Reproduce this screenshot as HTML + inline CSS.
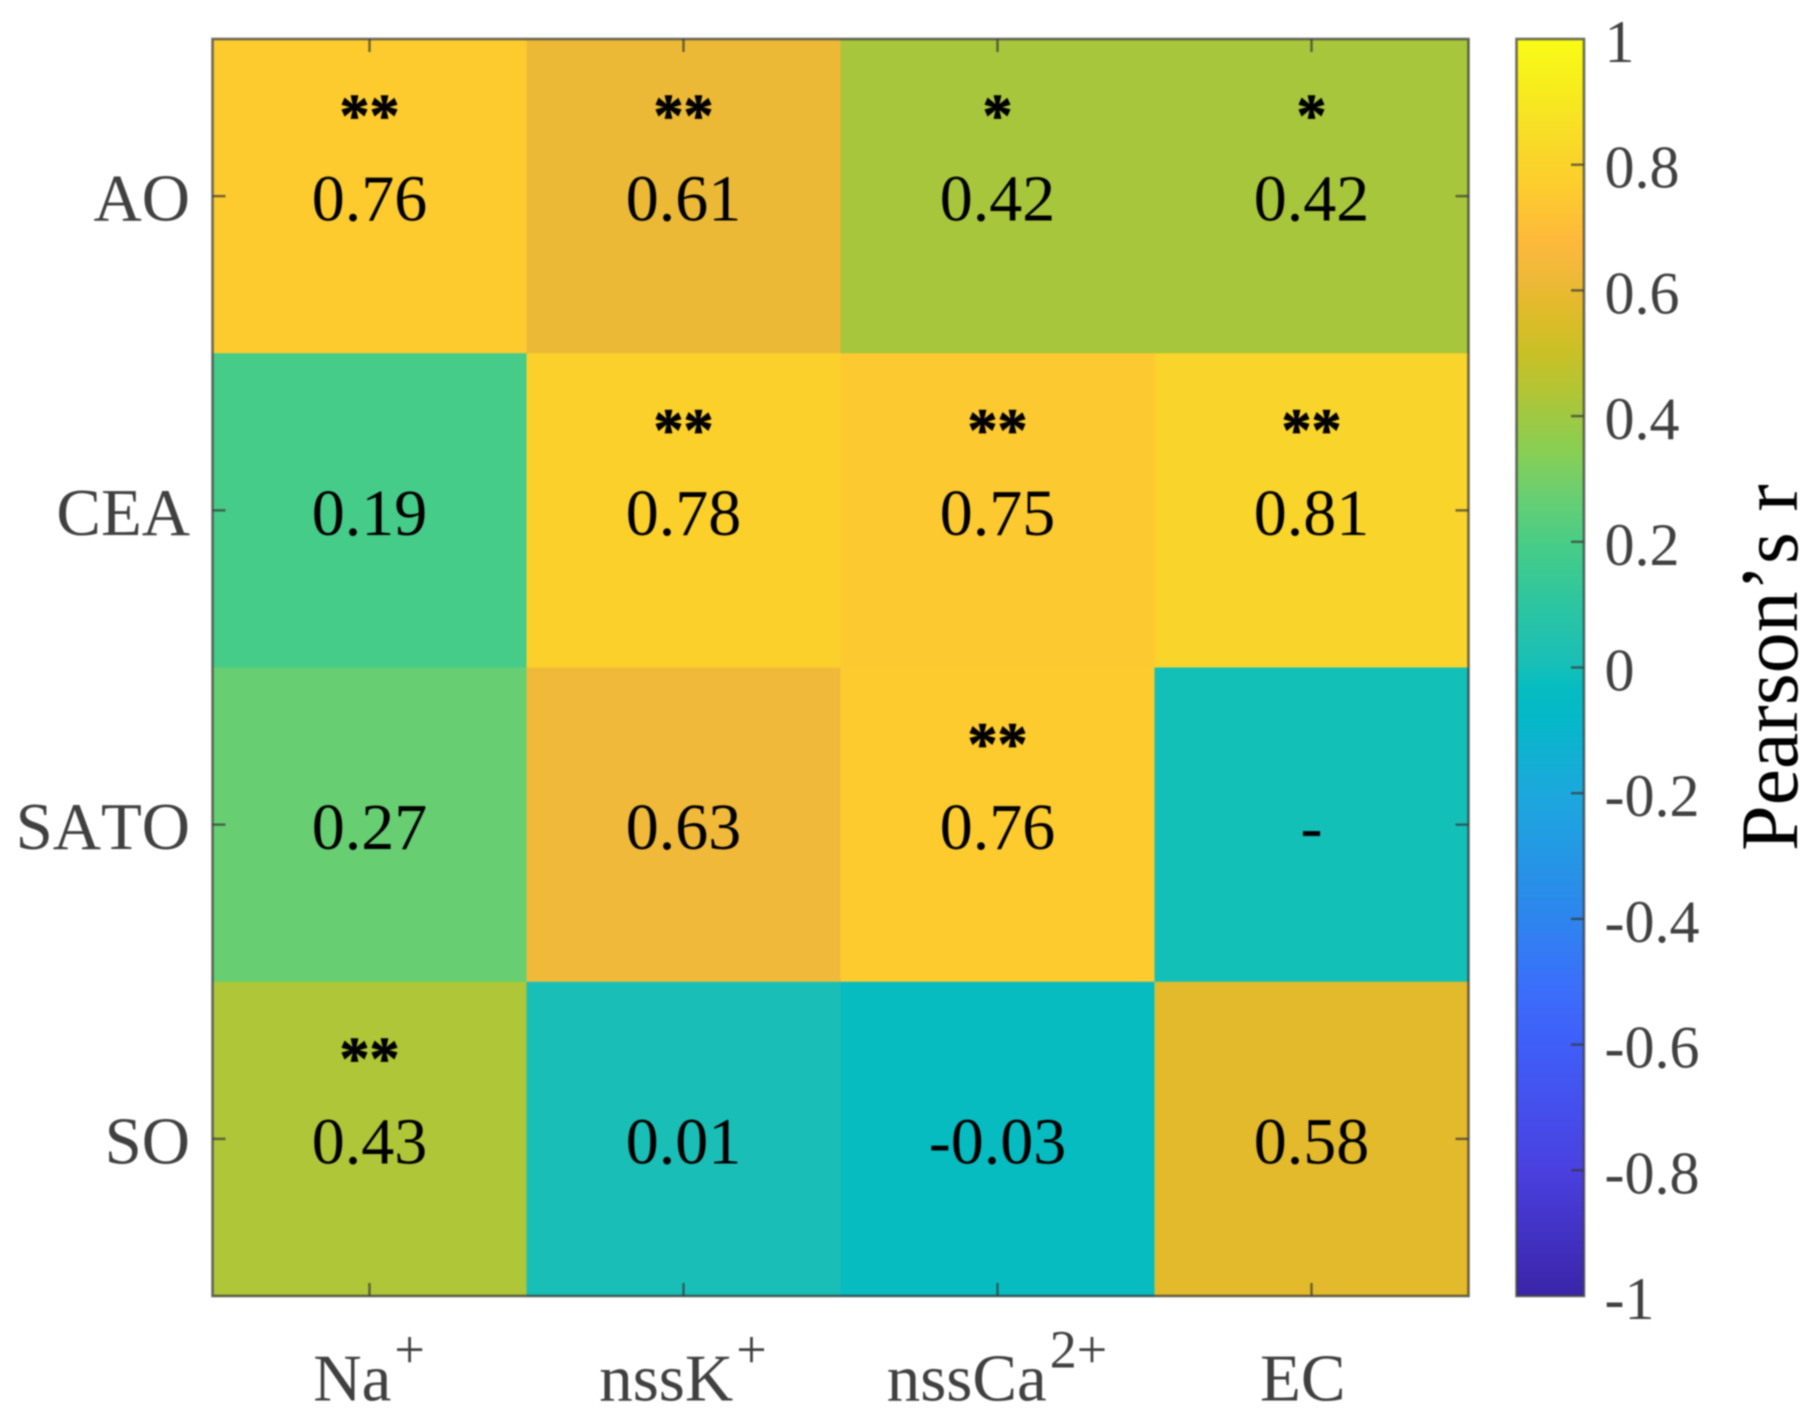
<!DOCTYPE html>
<html lang="en">
<head>
<meta charset="utf-8">
<title>Pearson's r heatmap</title>
<style>
html,body{margin:0;padding:0;background:#fff;}
body{width:1817px;height:1423px;overflow:hidden;}
svg{display:block;filter:blur(0.75px);}
text{font-family:"Liberation Serif",serif;font-kerning:none;}
</style>
</head>
<body>
<svg id="chart" xmlns="http://www.w3.org/2000/svg" width="1817" height="1423" viewBox="0 0 1817 1423">
<defs><linearGradient id="cbGrad" x1="0" y1="1" x2="0" y2="0"></linearGradient></defs>
<rect width="1817" height="1423" fill="#ffffff"/>
<g id="cells"></g>
<g id="notes"></g>
<g id="axes"></g>
<g id="colorbar"></g>
<text transform="translate(1797,851) rotate(-90)" font-size="82" fill="#000">Pearson’s r</text>
</svg>
<script>
// Data
const rowLabels = ["AO", "CEA", "SATO", "SO"];
const colBase = ["Na", "nssK", "nssCa", "EC"];
const colSup = ["+", "+", "2+", "\u00A0"];
const values = [
  [0.76, 0.61, 0.42, 0.42],
  [0.19, 0.78, 0.75, 0.81],
  [0.27, 0.63, 0.76, 0],
  [0.43, 0.01, -0.03, 0.58]
];
const valueLabels = [
  ["0.76", "0.61", "0.42", "0.42"],
  ["0.19", "0.78", "0.75", "0.81"],
  ["0.27", "0.63", "0.76", "-"],
  ["0.43", "0.01", "-0.03", "0.58"]
];
const significance = [
  ["**", "**", "*", "*"],
  ["", "**", "**", "**"],
  ["", "", "**", ""],
  ["**", "", "", ""]
];
const colorTicks = [1, 0.8, 0.6, 0.4, 0.2, 0, -0.2, -0.4, -0.6, -0.8, -1];
const colorDomain = [-1, 1];
const cmapPositions = [-1, -0.8, -0.6, -0.5, -0.4, -0.2, -0.08, -0.03, 0, 0.01, 0.1, 0.19, 0.27, 0.34, 0.42, 0.43, 0.5, 0.58, 0.61, 0.63, 0.68, 0.76, 0.78, 0.81, 0.9, 1];
const cmapColors = ["#3a24a8", "#4a40e0", "#3f5ef8", "#3a70fa", "#2d85ee", "#1ca8dc", "#05b8c8", "#07bcc0", "#13c0b8", "#19bfb6", "#2cc5a0", "#45cc88", "#67cf72", "#86cf55", "#a8c63b", "#aec637", "#c9c026", "#e3ba2b", "#ebb935", "#f1b939", "#fdb93a", "#fdcb2e", "#fcd02b", "#f9d42a", "#f6e820", "#f9fb15"];

const NS = "http://www.w3.org/2000/svg";
const plot = {left: 212.5, right: 1468.5, top: 39, bottom: 1296};
const bar = {left: 1516.5, right: 1584};
const AXIS = "rgba(55,55,55,0.72)";
const TICK_TEXT = "#404040";

function make(tag, attrs, parent, text) {
  const el = document.createElementNS(NS, tag);
  for (const k in attrs) el.setAttribute(k, attrs[k]);
  if (text !== undefined) el.textContent = text;
  parent.appendChild(el);
  return el;
}
function xBand(c) { return plot.left + (plot.right - plot.left) * c / colBase.length; }
function yBand(r) { return plot.top + (plot.bottom - plot.top) * r / rowLabels.length; }
function xMid(c) { return xBand(c + 0.5); }
function yMid(r) { return yBand(r + 0.5); }
function yColor(v) {
  return plot.bottom - (v - colorDomain[0]) / (colorDomain[1] - colorDomain[0]) * (plot.bottom - plot.top);
}
function hexRgb(h) { return [1, 3, 5].map(i => parseInt(h.substr(i, 2), 16)); }
function colorOf(v) {
  const p = cmapPositions;
  if (v <= p[0]) return cmapColors[0];
  for (let i = 1; i < p.length; i++) {
    if (v <= p[i]) {
      const t = (v - p[i - 1]) / (p[i] - p[i - 1]);
      const a = hexRgb(cmapColors[i - 1]), b = hexRgb(cmapColors[i]);
      return "rgb(" + a.map((x, k) => Math.round(x + (b[k] - x) * t)).join(",") + ")";
    }
  }
  return cmapColors[cmapColors.length - 1];
}

const cellsG = document.getElementById("cells");
const notesG = document.getElementById("notes");
const axesG = document.getElementById("axes");
const barG = document.getElementById("colorbar");

rowLabels.forEach((rowName, r) => {
  colBase.forEach((colName, c) => {
    const cell = make("rect", {
      x: xBand(c), y: yBand(r),
      width: xBand(c + 1) - xBand(c) + 0.5, height: yBand(r + 1) - yBand(r) + 0.5,
      fill: colorOf(values[r][c])
    }, cellsG);
    
    

    const label = make("text", {
      x: xMid(c), y: yMid(r) + 24.5, "text-anchor": "middle", "font-size": 66, fill: "#000"
    }, notesG, valueLabels[r][c]);
    
    

    if (significance[r][c]) {
      const star = make("text", {
        x: xMid(c), y: yMid(r) - 60.5, "text-anchor": "middle", "font-size": 60, "font-weight": "bold", fill: "#000",
        stroke: "#000", "stroke-width": 0.8
      }, notesG, significance[r][c]);
      
      
    }
  });
});

// Axes frame
const frame = make("rect", {
  x: plot.left, y: plot.top, width: plot.right - plot.left, height: plot.bottom - plot.top,
  fill: "none", stroke: AXIS, "stroke-width": 2.6
}, axesG);



rowLabels.forEach((name, r) => {
  const y = yMid(r);
  const t1 = make("line", {x1: plot.left, x2: plot.left + 13, y1: y, y2: y, stroke: AXIS, "stroke-width": 2.4}, axesG);
  
  
  const t2 = make("line", {x1: plot.right - 13, x2: plot.right, y1: y, y2: y, stroke: AXIS, "stroke-width": 2.4}, axesG);
  
  
  const lab = make("text", {x: 190, y: y + 24.5, "text-anchor": "end", "font-size": 66.8, fill: TICK_TEXT}, axesG, name);
  
  
});

colBase.forEach((name, c) => {
  const x = xMid(c);
  const t1 = make("line", {x1: x, x2: x, y1: plot.top, y2: plot.top + 13, stroke: AXIS, "stroke-width": 2.4}, axesG);
  
  
  const t2 = make("line", {x1: x, x2: x, y1: plot.bottom - 13, y2: plot.bottom, stroke: AXIS, "stroke-width": 2.4}, axesG);
  
  
  const lab = make("text", {x: x - 0.5, y: 1400.5, "text-anchor": "middle", "font-size": 67, fill: TICK_TEXT}, axesG);
  
  
  make("tspan", {}, lab, name);
  make("tspan", {"font-size": 54, dx: 3, dy: -33}, lab, colSup[c]);
});

// Colorbar
const grad = document.getElementById("cbGrad");
cmapPositions.forEach((v, i) => {
  make("stop", {
    offset: (v - colorDomain[0]) / (colorDomain[1] - colorDomain[0]),
    "stop-color": cmapColors[i]
  }, grad);
});
const barRect = make("rect", {
  x: bar.left, y: plot.top, width: bar.right - bar.left, height: plot.bottom - plot.top,
  fill: "url(#cbGrad)", stroke: AXIS, "stroke-width": 2.6
}, barG);



colorTicks.forEach(v => {
  const y = yColor(v);
  if (v !== colorDomain[0] && v !== colorDomain[1]) {
    const t = make("line", {x1: bar.right - 13, x2: bar.right, y1: y, y2: y, stroke: AXIS, "stroke-width": 2.4}, barG);
    
    
  }
  const lab = make("text", {x: 1604.5, y: y + 23, "font-size": 60, fill: TICK_TEXT}, barG, String(v));
  
  
});
</script>
</body>
</html>
